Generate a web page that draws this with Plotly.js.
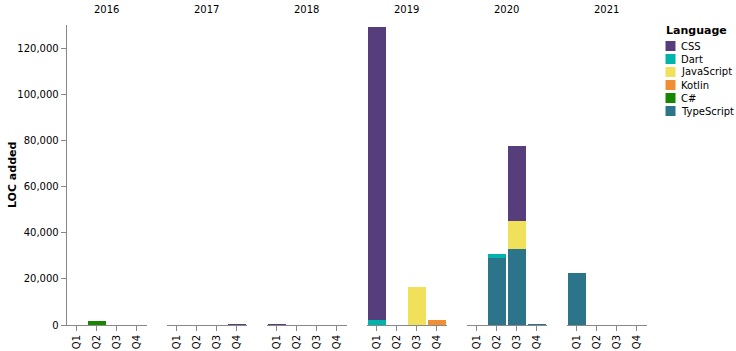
<!DOCTYPE html>
<html>
<head>
<meta charset="utf-8">
<script src="https://cdn.plot.ly/plotly-3.0.1.min.js"></script>
<style>html,body{margin:0;padding:0;background:#fff}#chart{width:736px;height:351px}</style>
</head>
<body>
<div id="chart"></div>
<script>
// ---- data ----
const years = ['2016', '2017', '2018', '2019', '2020', '2021'];
const quarters = ['Q1', 'Q2', 'Q3', 'Q4'];
// legend order
const languages = ['CSS', 'Dart', 'JavaScript', 'Kotlin', 'C#', 'TypeScript'];
// LOC added, one row per year, one column per quarter
const cssLOC        = [[0,0,0,0],[0,0,0,300],[300,0,0,0],[127200,0,0,0],[0,0,32600,0],[0,0,0,0]];
const dartLOC       = [[0,0,0,0],[0,0,0,0],[0,0,0,0],[2100,0,0,0],[0,1900,0,0],[0,0,0,0]];
const javascriptLOC = [[0,0,0,0],[0,0,0,0],[0,0,0,0],[0,0,16600,0],[0,0,11900,0],[0,0,0,0]];
const kotlinLOC     = [[0,0,0,0],[0,0,0,0],[0,0,0,0],[0,0,0,2000],[0,0,0,0],[0,0,0,0]];
const csharpLOC     = [[0,1600,0,0],[0,0,0,0],[0,0,0,0],[0,0,0,0],[0,0,0,0],[0,0,0,0]];
const typescriptLOC = [[0,0,0,0],[0,0,0,0],[0,0,0,0],[0,0,0,0],[0,28900,33000,450],[22500,0,0,0]];
const langColors = ['#563d7c', '#00b4ab', '#f1e05a', '#f18e33', '#178600', '#2b7489'];

// ---- build ----
const series = {CSS: cssLOC, Dart: dartLOC, JavaScript: javascriptLOC, Kotlin: kotlinLOC, 'C#': csharpLOC, TypeScript: typescriptLOC};
const stackOrder = ['TypeScript', 'C#', 'Kotlin', 'JavaScript', 'Dart', 'CSS']; // bottom to top
const W = 736, H = 351;
const FONT = 'DejaVu Sans';
const plotTop = 25, plotBottom = 325;
const facetLeft0 = 66.7, facetW = 80, facetStep = 100;

const traces = [];
stackOrder.forEach(lang => {
  const li = languages.indexOf(lang);
  years.forEach((yr, yi) => {
    const ax = yi === 0 ? '' : String(yi + 1);
    traces.push({
      type: 'bar',
      name: lang,
      legendgroup: lang,
      showlegend: false,
      x: quarters,
      y: series[lang][yi],
      xaxis: 'x' + ax,
      yaxis: 'y' + ax,
      marker: {color: langColors[li], line: {width: 0}},
      hoverinfo: 'x+y+name'
    });
  });
});

const layout = {
  width: W, height: H,
  margin: {l: 0, r: 0, t: 0, b: 0},
  paper_bgcolor: '#fff', plot_bgcolor: 'rgba(0,0,0,0)',
  barmode: 'stack', bargap: 0.1,
  font: {family: FONT, size: 10, color: '#000'},
  showlegend: false,
  annotations: [],
  shapes: [],
  hovermode: 'closest'
};

years.forEach((yr, yi) => {
  const ax = yi === 0 ? '' : String(yi + 1);
  const x0 = facetLeft0 + yi * facetStep;
  layout['xaxis' + ax] = {
    domain: [x0 / W, (x0 + facetW) / W],
    anchor: 'y' + ax,
    type: 'category', categoryorder: 'array', categoryarray: quarters,
    range: [-0.5, 3.5], fixedrange: true,
    showline: true, linecolor: '#888', linewidth: 1,
    ticks: 'outside', ticklen: 5, tickcolor: '#888',
    tickangle: -90, tickfont: {family: FONT, size: 10, color: '#000'},
    showgrid: false, zeroline: false, automargin: false
  };
  layout['yaxis' + ax] = {
    domain: [1 - plotBottom / H, 1 - plotTop / H],
    anchor: 'x' + ax,
    range: [0, 130000], fixedrange: true,
    showgrid: false, zeroline: false, automargin: false,
    showline: yi === 0, linecolor: '#888', linewidth: 1,
    ticks: yi === 0 ? 'outside' : '', ticklen: 5, tickcolor: '#888',
    showticklabels: yi === 0,
    tickmode: 'linear', tick0: 0, dtick: 20000, tickformat: ',d',
    tickfont: {family: FONT, size: 10, color: '#000'}
  };
  layout.annotations.push({
    text: yr, xref: 'paper', yref: 'paper',
    x: (x0 + facetW / 2) / W, y: 1 - 9 / H,
    xanchor: 'center', yanchor: 'middle', showarrow: false,
    font: {family: FONT, size: 10, color: '#000'}
  });
});

// y-axis title
layout.annotations.push({
  text: '<b>LOC added</b>', xref: 'paper', yref: 'paper',
  x: 12 / W, y: 1 - 175 / H, textangle: -90,
  xanchor: 'center', yanchor: 'middle', showarrow: false,
  font: {family: FONT, size: 11, color: '#000'}
});

// legend (compact, Vega-style)
const legX = 665, legTitleY = 31, legFirstY = 46, legStep = 13, sw = 10;
layout.annotations.push({
  text: '<b>Language</b>', xref: 'paper', yref: 'paper',
  x: (legX - 1) / W, y: 1 - legTitleY / H,
  xanchor: 'left', yanchor: 'middle', showarrow: false,
  font: {family: FONT, size: 11, color: '#000'}
});
languages.forEach((lang, i) => {
  const cy = legFirstY + i * legStep;
  layout.shapes.push({
    type: 'rect', xref: 'paper', yref: 'paper',
    x0: (legX + 0.5) / W, x1: (legX + 0.5 + sw) / W,
    y0: 1 - (cy - sw / 2) / H, y1: 1 - (cy + sw / 2) / H,
    fillcolor: langColors[i], line: {width: 0}
  });
  layout.annotations.push({
    text: lang, xref: 'paper', yref: 'paper',
    x: (legX + 14) / W, y: 1 - cy / H,
    xanchor: 'left', yanchor: 'middle', showarrow: false,
    font: {family: FONT, size: 10, color: '#000'}
  });
});

Plotly.newPlot('chart', traces, layout, {displayModeBar: false, staticPlot: true});
</script>
</body>
</html>
